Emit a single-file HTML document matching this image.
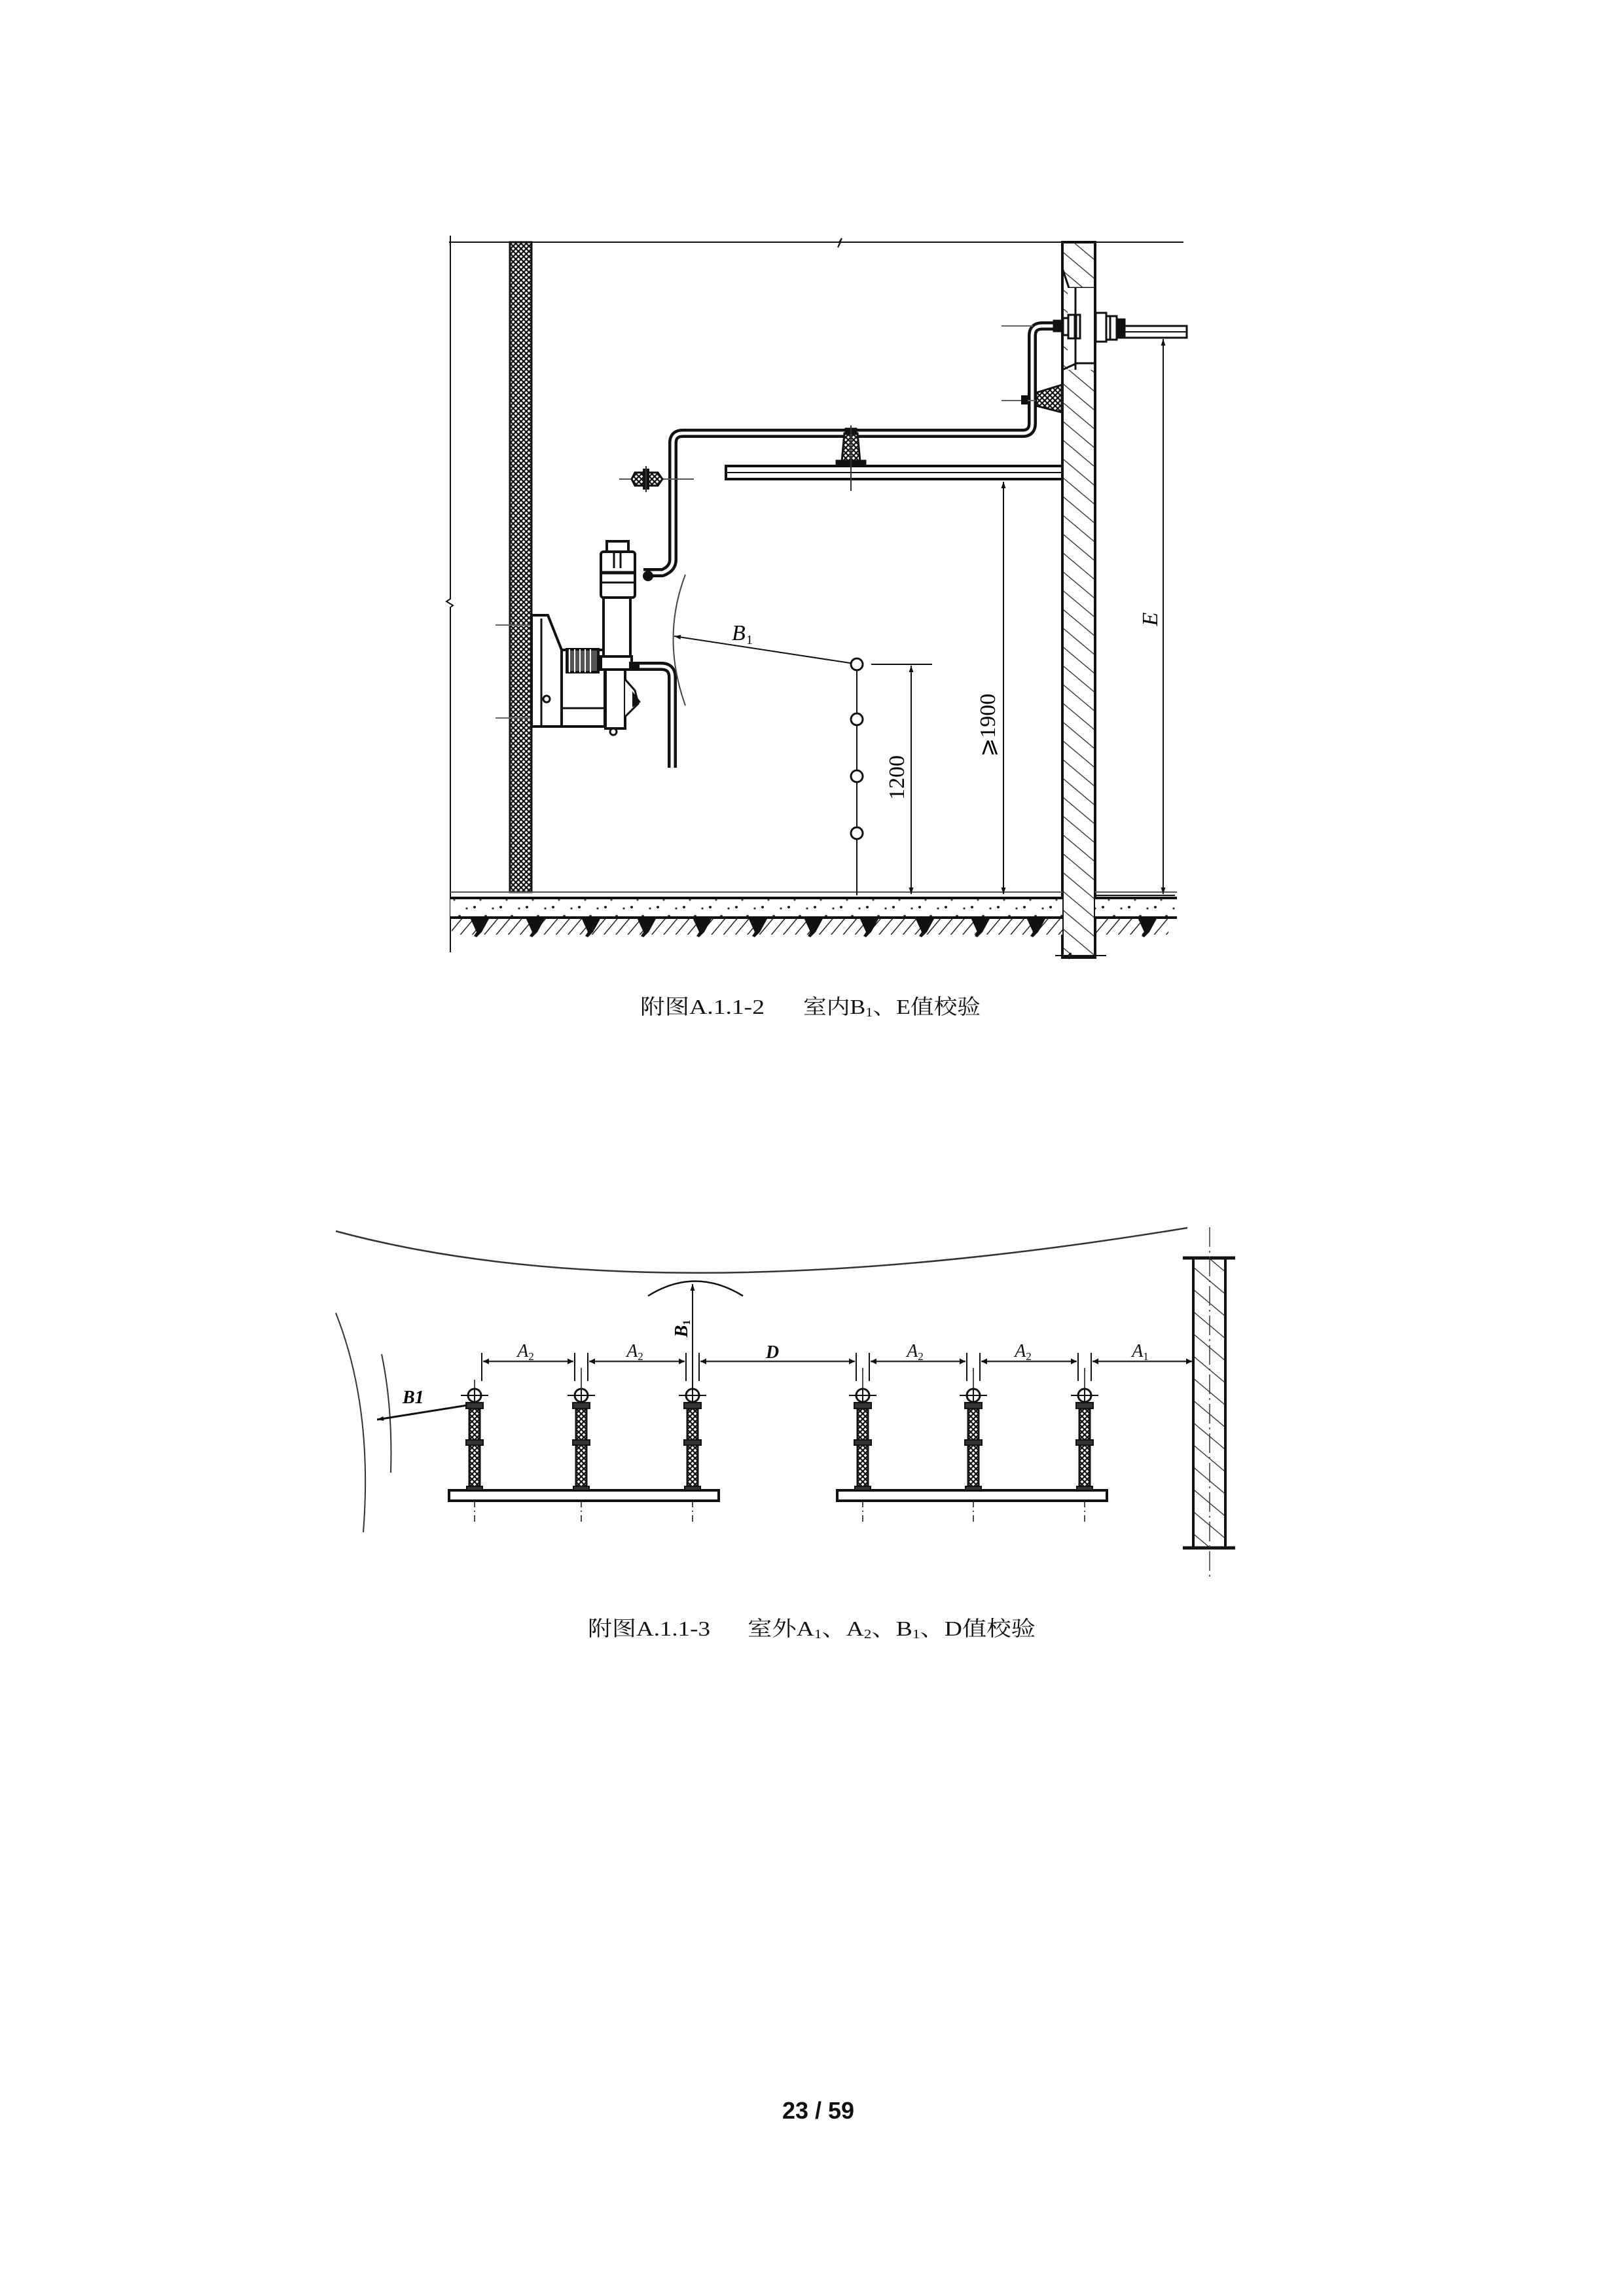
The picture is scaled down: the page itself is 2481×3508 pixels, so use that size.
<!DOCTYPE html>
<html><head><meta charset="utf-8"><style>
html,body{margin:0;padding:0;background:#fff;}
svg{display:block;}
</style></head><body>
<svg xmlns="http://www.w3.org/2000/svg" width="2481" height="3508" viewBox="0 0 2481 3508">
<defs>
<pattern id="cross" width="8" height="8" patternUnits="userSpaceOnUse">
<rect width="8" height="8" fill="#fff"/>
<path d="M0 0L8 8M8 0L0 8" stroke="#111" stroke-width="2.2"/>
</pattern>
<pattern id="hatch" width="22" height="22" patternUnits="userSpaceOnUse" patternTransform="rotate(-50)">
<rect width="22" height="22" fill="#fff"/>
<line x1="0" y1="0" x2="0" y2="22" stroke="#222" stroke-width="2.5"/>
</pattern>
<pattern id="hatch2" width="26" height="26" patternUnits="userSpaceOnUse" patternTransform="rotate(-50)">
<rect width="26" height="26" fill="#fff"/>
<line x1="0" y1="0" x2="0" y2="26" stroke="#222" stroke-width="2.5"/>
</pattern>
<pattern id="dots" width="40" height="30" patternUnits="userSpaceOnUse">
<rect width="40" height="30" fill="#fff"/>
<circle cx="5" cy="6" r="2" fill="#222"/><circle cx="22" cy="20" r="2.2" fill="#333"/>
<circle cx="33" cy="8" r="1.6" fill="#333"/><circle cx="14" cy="25" r="1.5" fill="#444"/>
</pattern>
<pattern id="ghatch" width="14" height="14" patternUnits="userSpaceOnUse" patternTransform="rotate(40)">
<rect width="14" height="14" fill="#fff"/>
<line x1="0" y1="0" x2="0" y2="14" stroke="#222" stroke-width="3"/>
</pattern>
<marker id="ar" viewBox="0 0 10 10" refX="10" refY="5" markerWidth="14" markerHeight="10" markerUnits="userSpaceOnUse" orient="auto-start-reverse">
<path d="M0 1.5L10 5L0 8.5Z" fill="#111"/>
</marker>
<marker id="ar2" viewBox="0 0 10 10" refX="10" refY="5" markerWidth="18" markerHeight="9" markerUnits="userSpaceOnUse" orient="auto-start-reverse">
<path d="M0 0L10 5L0 10Z" fill="#111"/>
</marker>
</defs>

<g stroke="#111" fill="none">
<path d="M686 370H1282l4 -6 -6 14 4 -8H1808" stroke-width="2"/>
<path d="M688 360V915l-6 4 10 6 -4 3V1455" stroke-width="2"/>
<rect x="779" y="370" width="33" height="993" fill="url(#cross)" stroke-width="3"/>
<rect x="1623" y="370" width="50" height="1093" fill="url(#hatch)" stroke-width="4"/>
<path d="M1623 370V410l10 30 H1673" stroke-width="3"/>
<rect x="1631" y="440" width="40" height="125" fill="#fff" stroke="none"/>
<path d="M1643 440V565" stroke-width="3"/>
<path d="M1623 565 L1645 555 H1673" stroke-width="3"/>
<path d="M1612 1460H1632l4 -4 -3 9 4 -5H1690" stroke-width="2"/>
<rect x="688" y="1372" width="935" height="30" fill="url(#dots)" stroke="none"/>
<rect x="1673" y="1372" width="125" height="30" fill="url(#dots)" stroke="none"/>
<path d="M688 1363H1623M1673 1363H1798" stroke-width="2" stroke="#555"/>
<path d="M688 1372H1623M1673 1372H1798" stroke-width="4"/>
<path d="M688 1402H1623M1673 1402H1798" stroke-width="4"/>
<rect x="690" y="1404" width="933" height="24" fill="url(#ghatch)" stroke="none"/>
<rect x="1675" y="1404" width="110" height="24" fill="url(#ghatch)" stroke="none"/>
</g>
<g fill="#111">
<path d="M718 1402h30l-12 22 -8 8 -4 -2 4 -6z"/>
<path d="M803 1402h30l-12 22 -8 8 -4 -2 4 -6z"/>
<path d="M888 1402h30l-12 22 -8 8 -4 -2 4 -6z"/>
<path d="M973 1402h30l-12 22 -8 8 -4 -2 4 -6z"/>
<path d="M1058 1402h30l-12 22 -8 8 -4 -2 4 -6z"/>
<path d="M1143 1402h30l-12 22 -8 8 -4 -2 4 -6z"/>
<path d="M1228 1402h30l-12 22 -8 8 -4 -2 4 -6z"/>
<path d="M1313 1402h30l-12 22 -8 8 -4 -2 4 -6z"/>
<path d="M1398 1402h30l-12 22 -8 8 -4 -2 4 -6z"/>
<path d="M1483 1402h30l-12 22 -8 8 -4 -2 4 -6z"/>
<path d="M1568 1402h30l-12 22 -8 8 -4 -2 4 -6z"/>
<path d="M1738 1402h30l-12 22 -8 8 -4 -2 4 -6z"/>
</g>

<g stroke="#111" fill="#fff">
<rect x="1109" y="712" width="514" height="20" stroke-width="4"/>
<line x1="1109" y1="722" x2="1623" y2="722" stroke-width="2"/>
</g>

<g fill="none" stroke-linejoin="round">
<path d="M1622 498H1592q-15 0 -15 15V647q0 15 -15 15H1043q-15 0 -15 15V855q0 14 -16 20H983" stroke="#111" stroke-width="14"/>
<path d="M1622 498H1592q-15 0 -15 15V647q0 15 -15 15H1043q-15 0 -15 15V855q0 14 -16 20H983" stroke="#fff" stroke-width="5"/>
<path d="M970 1018H1010q17 0 17 17V1173" stroke="#111" stroke-width="14"/>
<path d="M970 1018H1010q17 0 17 17V1173" stroke="#fff" stroke-width="5"/>
</g>

<g stroke="#111" stroke-width="3">
<rect x="1610" y="490" width="14" height="16" fill="#111"/>
<path d="M1624 486h8v26h-8z" fill="#fff"/>
<rect x="1632" y="481" width="10" height="36" fill="#fff"/>
<rect x="1644" y="481" width="6" height="36" fill="#fff"/>
<rect x="1674" y="478" width="16" height="44" fill="#fff"/>
<rect x="1690" y="483" width="6" height="36" fill="#fff"/>
<rect x="1696" y="483" width="10" height="36" fill="#fff"/>
<rect x="1706" y="488" width="12" height="28" fill="#111"/>
<rect x="1718" y="498" width="95" height="18" fill="#fff"/>
<line x1="1718" y1="507" x2="1813" y2="507" stroke-width="2"/>
</g>
<line x1="1530" y1="498" x2="1578" y2="498" stroke="#666" stroke-width="2"/>
<line x1="1530" y1="612" x2="1622" y2="612" stroke="#666" stroke-width="2"/>
<path d="M1583 600 L1622 588 V630 L1583 620Z" fill="url(#cross)" stroke="#111" stroke-width="3"/>
<rect x="1560" y="604" width="10" height="14" fill="#111"/>

<g stroke="#111" stroke-width="3">
<path d="M1290 662 L1286 705 H1314 L1310 662Z" fill="url(#cross)"/>
<rect x="1278" y="704" width="44" height="8" fill="#111"/>
<rect x="1292" y="655" width="16" height="8" fill="#111"/>
</g>
<line x1="1300" y1="650" x2="1300" y2="750" stroke="#333" stroke-width="2"/>

<line x1="946" y1="732" x2="1060" y2="732" stroke="#555" stroke-width="2"/>
<path d="M970 722 L1005 722 L1012 732 L1005 742 L970 742 L965 732Z" fill="url(#cross)" stroke="#111" stroke-width="3"/>
<rect x="982" y="716" width="10" height="32" fill="#111"/>
<line x1="987" y1="712" x2="987" y2="752" stroke="#333" stroke-width="2"/>

<g stroke="#111" stroke-width="4" fill="#fff">
<line x1="757" y1="955" x2="833" y2="955" stroke="#666" stroke-width="2"/>
<line x1="757" y1="1097" x2="833" y2="1097" stroke="#666" stroke-width="2"/>
<path d="M812 940H837L858 993V1110H812Z"/>
<line x1="827" y1="945" x2="827" y2="1108" stroke-width="3"/>
<circle cx="835" cy="1068" r="5" stroke-width="3"/>
<rect x="858" y="993" width="66" height="117"/>
<line x1="860" y1="1082" x2="922" y2="1082" stroke-width="3"/>
<rect x="866" y="992" width="48" height="35" fill="#555"/>
<path d="M870 992v35M878 992v35M886 992v35M894 992v35M902 992v35" stroke="#fff" stroke-width="2"/>
<rect x="925" y="1023" width="30" height="90"/>
<path d="M955 1038 L970 1055 L975 1075 L955 1095" stroke-width="3"/>
<path d="M968 1062l8 10 -8 5z" fill="#111"/>
<circle cx="937" cy="1118" r="5" stroke-width="3"/>
<rect x="922" y="913" width="41" height="90"/>
<rect x="918" y="1003" width="47" height="20"/>
<rect x="918" y="843" width="52" height="70" rx="4"/>
<rect x="927" y="827" width="33" height="16"/>
<line x1="938" y1="845" x2="938" y2="868" stroke-width="3"/>
<line x1="948" y1="845" x2="948" y2="868" stroke-width="3"/>
<line x1="919" y1="875" x2="969" y2="875" stroke-width="5"/>
<line x1="919" y1="890" x2="969" y2="890" stroke-width="3"/>
<circle cx="990" cy="880" r="6" fill="#111"/>
<rect x="963" y="1013" width="12" height="10" fill="#111"/>
</g>

<path d="M1047 878 Q1010 975 1047 1078" fill="none" stroke="#444" stroke-width="2"/>
<line x1="1305" y1="1014" x2="1030" y2="972" stroke="#111" stroke-width="2" marker-end="url(#ar)"/>
<text x="1118" y="978" font-family="Liberation Serif, serif" font-style="italic" font-size="34">B</text>
<text x="1140" y="984" font-family="Liberation Serif, serif" font-size="20">1</text>

<line x1="1309" y1="1015" x2="1309" y2="1368" stroke="#111" stroke-width="2"/>
<g fill="#fff" stroke="#111" stroke-width="3">
<circle cx="1309" cy="1015" r="9"/><circle cx="1309" cy="1099" r="9"/>
<circle cx="1309" cy="1186" r="9"/><circle cx="1309" cy="1273" r="9"/>
</g>
<line x1="1331" y1="1015" x2="1424" y2="1015" stroke="#111" stroke-width="2"/>

<line x1="1392" y1="1017" x2="1392" y2="1366" stroke="#111" stroke-width="2" marker-start="url(#ar)" marker-end="url(#ar)"/>
<line x1="1533" y1="736" x2="1533" y2="1366" stroke="#111" stroke-width="2" marker-start="url(#ar)" marker-end="url(#ar)"/>
<line x1="1777" y1="518" x2="1777" y2="1366" stroke="#111" stroke-width="2" marker-start="url(#ar)" marker-end="url(#ar)"/>
<line x1="1673" y1="1368" x2="1795" y2="1368" stroke="#111" stroke-width="2"/>
<text transform="translate(1381,1188) rotate(-90)" text-anchor="middle" font-family="Liberation Serif, serif" font-size="34">1200</text>
<text transform="translate(1520,1108) rotate(-90)" text-anchor="middle" font-family="Liberation Serif, 'Noto Serif CJK SC', serif" font-size="34">⩾1900</text>
<text transform="translate(1768,946) rotate(-90)" text-anchor="middle" font-family="Liberation Serif, serif" font-style="italic" font-size="34">E</text>

<g font-family="Liberation Serif, 'Noto Serif CJK SC', serif" font-size="32" fill="#111">
<text x="978" y="1549" textLength="190" lengthAdjust="spacingAndGlyphs">附图A.1.1-2</text>
<text x="1227" y="1549" textLength="271" lengthAdjust="spacingAndGlyphs">室内B<tspan font-size="20" dy="4">1</tspan><tspan dy="-4">、E值校验</tspan></text>
</g>

<path d="M513 1881 Q994 2011 1814 1876" fill="none" stroke="#333" stroke-width="2.5"/>
<path d="M513 2006 Q570 2150 555 2341" fill="none" stroke="#333" stroke-width="2"/>
<path d="M583 2069 Q600 2150 597 2250" fill="none" stroke="#333" stroke-width="2"/>

<rect x="1823" y="1922" width="49" height="443" fill="url(#hatch2)" stroke="#111" stroke-width="4"/>
<line x1="1807" y1="1922" x2="1887" y2="1922" stroke="#111" stroke-width="5"/>
<line x1="1807" y1="2365" x2="1887" y2="2365" stroke="#111" stroke-width="5"/>
<line x1="1848" y1="1875" x2="1848" y2="2411" stroke="#333" stroke-width="1.5" stroke-dasharray="30 6 3 6"/>

<rect x="686" y="2277" width="412" height="16" fill="#fff" stroke="#111" stroke-width="4"/>
<rect x="1279" y="2277" width="412" height="16" fill="#fff" stroke="#111" stroke-width="4"/>

<g id="posts" stroke="#111">
<g transform="translate(725,0)">
<line x1="0" y1="2108" x2="0" y2="2122" stroke-width="1.5"/>
<line x1="0" y1="2293" x2="0" y2="2330" stroke-width="1.5" stroke-dasharray="10 5 2 5"/>
<rect x="-8" y="2152" width="16" height="121" fill="url(#cross)" stroke-width="3"/>
<rect x="-13" y="2143" width="26" height="9" fill="#333" stroke-width="2"/>
<rect x="-13" y="2200" width="26" height="8" fill="#333" stroke-width="2"/>
<rect x="-12" y="2271" width="24" height="6" fill="#333" stroke-width="2"/>
<circle cx="0" cy="2132" r="10" fill="#fff" stroke-width="3"/>
<line x1="-21" y1="2132" x2="21" y2="2132" stroke-width="2"/><line x1="0" y1="2122" x2="0" y2="2142" stroke-width="2"/>
</g>
<g transform="translate(888,0)">
<line x1="0" y1="2090" x2="0" y2="2122" stroke-width="1.5"/>
<line x1="0" y1="2293" x2="0" y2="2330" stroke-width="1.5" stroke-dasharray="10 5 2 5"/>
<rect x="-8" y="2152" width="16" height="121" fill="url(#cross)" stroke-width="3"/>
<rect x="-13" y="2143" width="26" height="9" fill="#333" stroke-width="2"/>
<rect x="-13" y="2200" width="26" height="8" fill="#333" stroke-width="2"/>
<rect x="-12" y="2271" width="24" height="6" fill="#333" stroke-width="2"/>
<circle cx="0" cy="2132" r="10" fill="#fff" stroke-width="3"/>
<line x1="-21" y1="2132" x2="21" y2="2132" stroke-width="2"/><line x1="0" y1="2122" x2="0" y2="2142" stroke-width="2"/>
</g>
<g transform="translate(1058,0)">
<line x1="0" y1="2090" x2="0" y2="2122" stroke-width="1.5"/>
<line x1="0" y1="2293" x2="0" y2="2330" stroke-width="1.5" stroke-dasharray="10 5 2 5"/>
<rect x="-8" y="2152" width="16" height="121" fill="url(#cross)" stroke-width="3"/>
<rect x="-13" y="2143" width="26" height="9" fill="#333" stroke-width="2"/>
<rect x="-13" y="2200" width="26" height="8" fill="#333" stroke-width="2"/>
<rect x="-12" y="2271" width="24" height="6" fill="#333" stroke-width="2"/>
<circle cx="0" cy="2132" r="10" fill="#fff" stroke-width="3"/>
<line x1="-21" y1="2132" x2="21" y2="2132" stroke-width="2"/><line x1="0" y1="2122" x2="0" y2="2142" stroke-width="2"/>
</g>
<g transform="translate(1318,0)">
<line x1="0" y1="2090" x2="0" y2="2122" stroke-width="1.5"/>
<line x1="0" y1="2293" x2="0" y2="2330" stroke-width="1.5" stroke-dasharray="10 5 2 5"/>
<rect x="-8" y="2152" width="16" height="121" fill="url(#cross)" stroke-width="3"/>
<rect x="-13" y="2143" width="26" height="9" fill="#333" stroke-width="2"/>
<rect x="-13" y="2200" width="26" height="8" fill="#333" stroke-width="2"/>
<rect x="-12" y="2271" width="24" height="6" fill="#333" stroke-width="2"/>
<circle cx="0" cy="2132" r="10" fill="#fff" stroke-width="3"/>
<line x1="-21" y1="2132" x2="21" y2="2132" stroke-width="2"/><line x1="0" y1="2122" x2="0" y2="2142" stroke-width="2"/>
</g>
<g transform="translate(1487,0)">
<line x1="0" y1="2090" x2="0" y2="2122" stroke-width="1.5"/>
<line x1="0" y1="2293" x2="0" y2="2330" stroke-width="1.5" stroke-dasharray="10 5 2 5"/>
<rect x="-8" y="2152" width="16" height="121" fill="url(#cross)" stroke-width="3"/>
<rect x="-13" y="2143" width="26" height="9" fill="#333" stroke-width="2"/>
<rect x="-13" y="2200" width="26" height="8" fill="#333" stroke-width="2"/>
<rect x="-12" y="2271" width="24" height="6" fill="#333" stroke-width="2"/>
<circle cx="0" cy="2132" r="10" fill="#fff" stroke-width="3"/>
<line x1="-21" y1="2132" x2="21" y2="2132" stroke-width="2"/><line x1="0" y1="2122" x2="0" y2="2142" stroke-width="2"/>
</g>
<g transform="translate(1657,0)">
<line x1="0" y1="2090" x2="0" y2="2122" stroke-width="1.5"/>
<line x1="0" y1="2293" x2="0" y2="2330" stroke-width="1.5" stroke-dasharray="10 5 2 5"/>
<rect x="-8" y="2152" width="16" height="121" fill="url(#cross)" stroke-width="3"/>
<rect x="-13" y="2143" width="26" height="9" fill="#333" stroke-width="2"/>
<rect x="-13" y="2200" width="26" height="8" fill="#333" stroke-width="2"/>
<rect x="-12" y="2271" width="24" height="6" fill="#333" stroke-width="2"/>
<circle cx="0" cy="2132" r="10" fill="#fff" stroke-width="3"/>
<line x1="-21" y1="2132" x2="21" y2="2132" stroke-width="2"/><line x1="0" y1="2122" x2="0" y2="2142" stroke-width="2"/>
</g>
</g>

<g stroke="#111" stroke-width="2">
<line x1="736" y1="2067" x2="736" y2="2110"/>
<line x1="878" y1="2067" x2="878" y2="2110"/><line x1="898" y1="2067" x2="898" y2="2110"/>
<line x1="1048" y1="2067" x2="1048" y2="2110"/><line x1="1068" y1="2067" x2="1068" y2="2110"/>
<line x1="1308" y1="2067" x2="1308" y2="2110"/><line x1="1328" y1="2067" x2="1328" y2="2110"/>
<line x1="1477" y1="2067" x2="1477" y2="2110"/><line x1="1497" y1="2067" x2="1497" y2="2110"/>
<line x1="1647" y1="2067" x2="1647" y2="2110"/><line x1="1667" y1="2067" x2="1667" y2="2110"/>
</g>
<g stroke="#333" stroke-width="2.5">
<line x1="738" y1="2080" x2="876" y2="2080" marker-start="url(#ar2)" marker-end="url(#ar2)"/>
<line x1="900" y1="2080" x2="1046" y2="2080" marker-start="url(#ar2)" marker-end="url(#ar2)"/>
<line x1="1070" y1="2080" x2="1306" y2="2080" marker-start="url(#ar2)" marker-end="url(#ar2)"/>
<line x1="1330" y1="2080" x2="1475" y2="2080" marker-start="url(#ar2)" marker-end="url(#ar2)"/>
<line x1="1499" y1="2080" x2="1645" y2="2080" marker-start="url(#ar2)" marker-end="url(#ar2)"/>
<line x1="1669" y1="2080" x2="1821" y2="2080" marker-start="url(#ar2)" marker-end="url(#ar2)"/>
</g>
<g font-family="Liberation Serif, serif" font-style="italic" font-size="28" fill="#111" text-anchor="middle">
<text x="803" y="2073">A<tspan font-size="17" font-style="normal" dy="5">2</tspan></text>
<text x="970" y="2073">A<tspan font-size="17" font-style="normal" dy="5">2</tspan></text>
<text x="1180" y="2075" font-weight="bold">D</text>
<text x="1398" y="2073">A<tspan font-size="17" font-style="normal" dy="5">2</tspan></text>
<text x="1563" y="2073">A<tspan font-size="17" font-style="normal" dy="5">2</tspan></text>
<text x="1742" y="2073">A<tspan font-size="17" font-style="normal" dy="5">1</tspan></text>
</g>

<line x1="1058" y1="2122" x2="1058" y2="1962" stroke="#111" stroke-width="2" marker-end="url(#ar)"/>
<path d="M990 1980 Q1062 1935 1135 1980" fill="none" stroke="#111" stroke-width="2.5"/>
<text transform="translate(1050,2030) rotate(-90)" text-anchor="middle" font-family="Liberation Serif, serif" font-style="italic" font-weight="bold" font-size="28">B<tspan font-size="16" font-style="normal" dy="4">1</tspan></text>

<line x1="714" y1="2147" x2="576" y2="2169" stroke="#111" stroke-width="3" marker-end="url(#ar)"/>
<text x="615" y="2144" font-family="Liberation Serif, serif" font-style="italic" font-weight="bold" font-size="28">B1</text>

<g font-family="Liberation Serif, 'Noto Serif CJK SC', serif" font-size="32" fill="#111">
<text x="898" y="2499" textLength="187" lengthAdjust="spacingAndGlyphs">附图A.1.1-3</text>
<text x="1142" y="2499" textLength="440" lengthAdjust="spacingAndGlyphs">室外A<tspan font-size="20" dy="4">1</tspan><tspan dy="-4">、A</tspan><tspan font-size="20" dy="4">2</tspan><tspan dy="-4">、B</tspan><tspan font-size="20" dy="4">1</tspan><tspan dy="-4">、D值校验</tspan></text>
</g>

<text x="1250" y="3237" text-anchor="middle" font-family="Liberation Sans, sans-serif" font-weight="bold" font-size="36" fill="#111">23 / 59</text>
</svg>
</body></html>
